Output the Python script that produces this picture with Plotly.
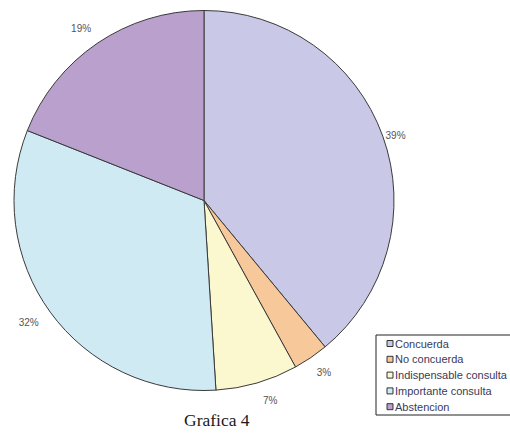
import plotly.graph_objects as go

labels = ["Concuerda", "No concuerda", "Indispensable consulta", "Importante consulta", "Abstencion"]
values = [39, 3, 7, 32, 19]
colors = ["#C9C8E6", "#F6C89A", "#FBF7CE", "#D0EAF4", "#B9A0CD"]

W, H = 510, 437
cx, cy, r = 204, 200.5, 190

# label templates push the outside labels a little further from the rim, as in the original
templates = ["%{percent}", "&nbsp;<br>%{percent}&nbsp;", "&nbsp;<br>%{percent}",
             "&nbsp;<br>%{percent}&nbsp;&nbsp;", "%{percent}<br> "]

fig = go.Figure(go.Pie(
    labels=labels,
    values=values,
    sort=False,
    direction="clockwise",
    rotation=0,
    marker=dict(colors=colors, line=dict(color="#3a3a3a", width=1)),
    texttemplate=templates,
    textposition="outside",
    textfont=dict(family="Liberation Sans, Arial, sans-serif", size=10, color="#555555"),
    domain=dict(x=[(cx - r) / W, (cx + r) / W], y=[(H - cy - r) / H, (H - cy + r) / H]),
    hoverinfo="label+percent",
    showlegend=False,
))

# custom compact legend built from labels/colors
shapes = []
annotations = []
lx0, ly0, ly1 = 376, 335, 415
shapes.append(dict(type="rect", xref="paper", yref="paper",
                   x0=lx0 / W, x1=525 / W, y0=(H - ly1) / H, y1=(H - ly0) / H,
                   line=dict(color="#222222", width=1), fillcolor="white", layer="above"))
first_y, step = 343.5, 15.8
for i, (lab, col) in enumerate(zip(labels, colors)):
    yc = first_y + i * step
    shapes.append(dict(type="rect", xref="paper", yref="paper",
                       x0=387 / W, x1=393 / W, y0=(H - yc - 3) / H, y1=(H - yc + 3) / H,
                       line=dict(color="#333333", width=1), fillcolor=col, layer="above"))
    annotations.append(dict(text=lab, x=393 / W, y=(H - yc) / H, xref="paper", yref="paper",
                            showarrow=False, xanchor="left", yanchor="middle",
                            font=dict(family="Liberation Sans, Arial, sans-serif", size=11, color="#3a3a5a")))

annotations.append(dict(
    text="Grafica 4", x=217 / W, y=(H - 420) / H, xref="paper", yref="paper",
    showarrow=False, xanchor="center", yanchor="middle",
    font=dict(family="Liberation Serif, Times New Roman, serif", size=17.5, color="#1a1a1a"),
))

fig.update_layout(
    width=W, height=H,
    margin=dict(l=0, r=0, t=0, b=0),
    paper_bgcolor="white",
    plot_bgcolor="white",
    showlegend=False,
    shapes=shapes,
    annotations=annotations,
)

fig.write_html("out.html", config={"displayModeBar": False},
               post_script="document.body.style.margin='0';")
